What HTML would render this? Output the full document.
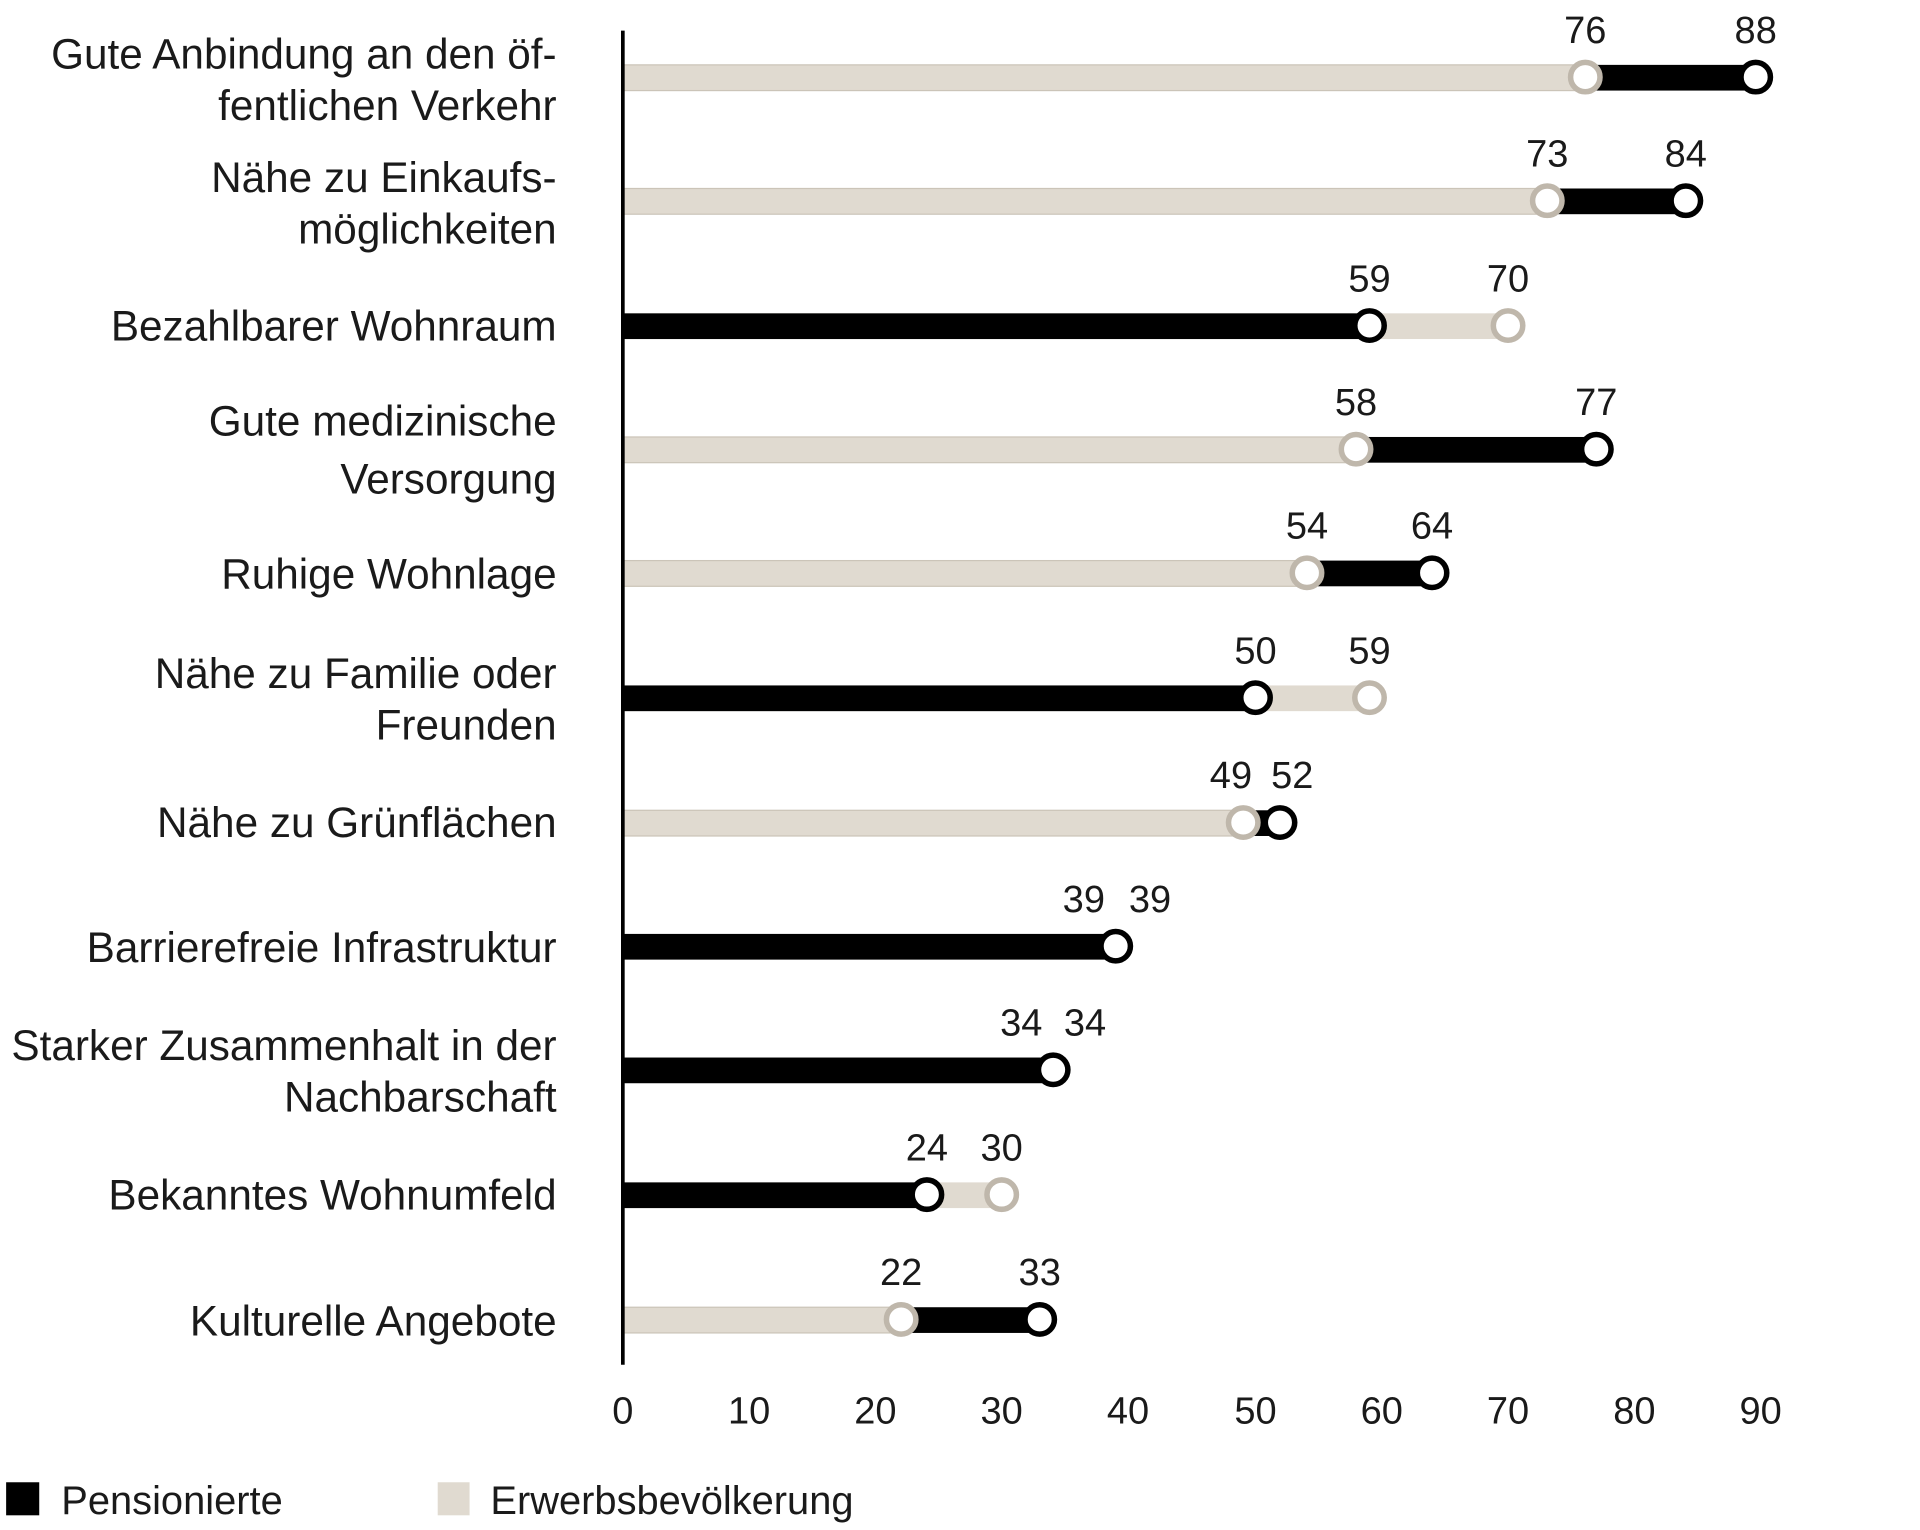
<!DOCTYPE html>
<html><head><meta charset="utf-8"><style>html,body{margin:0;padding:0;background:#fff}svg{display:block}</style></head>
<body>
<svg width="1920" height="1530" viewBox="0 0 1566 1250" preserveAspectRatio="none" xmlns="http://www.w3.org/2000/svg" font-family="Liberation Sans, sans-serif" fill="#1a1a1a">
<g id="bars">
<rect x="508" y="53" width="924" height="21" fill="#000"/><rect x="508" y="53" width="785" height="21" fill="#e0dad0" stroke="#cbc4b8" stroke-width="1"/>
<rect x="508" y="154" width="867" height="21" fill="#000"/><rect x="508" y="154" width="754" height="21" fill="#e0dad0" stroke="#cbc4b8" stroke-width="1"/>
<rect x="508" y="256" width="722" height="21" fill="#e0dad0"/><rect x="508" y="256" width="609" height="21" fill="#000"/>
<rect x="508" y="357" width="794" height="21" fill="#000"/><rect x="508" y="357" width="598" height="21" fill="#e0dad0" stroke="#cbc4b8" stroke-width="1"/>
<rect x="508" y="458" width="660" height="21" fill="#000"/><rect x="508" y="458" width="558" height="21" fill="#e0dad0" stroke="#cbc4b8" stroke-width="1"/>
<rect x="508" y="560" width="609" height="21" fill="#e0dad0"/><rect x="508" y="560" width="516" height="21" fill="#000"/>
<rect x="508" y="662" width="536" height="21" fill="#000"/><rect x="508" y="662" width="506" height="21" fill="#e0dad0" stroke="#cbc4b8" stroke-width="1"/>
<rect x="508" y="763" width="402" height="21" fill="#000"/>
<rect x="508" y="864" width="351" height="21" fill="#000"/>
<rect x="508" y="966" width="309" height="21" fill="#e0dad0"/><rect x="508" y="966" width="248" height="21" fill="#000"/>
<rect x="508" y="1068" width="340" height="21" fill="#000"/><rect x="508" y="1068" width="227" height="21" fill="#e0dad0" stroke="#cbc4b8" stroke-width="1"/>
</g>
<line x1="508" y1="25" x2="508" y2="1115" stroke="#000" stroke-width="3"/>
<g fill="#fff" stroke-width="4.5">
<g stroke="#bfb7ab">
<circle cx="1293" cy="63" r="12"/><circle cx="1262" cy="164" r="12"/><circle cx="1230" cy="266" r="12"/><circle cx="1106" cy="367" r="12"/><circle cx="1066" cy="468" r="12"/><circle cx="1117" cy="570" r="12"/><circle cx="1014" cy="672" r="12"/><circle cx="817" cy="976" r="12"/><circle cx="735" cy="1078" r="12"/>
</g>
<g stroke="#000">
<circle cx="1432" cy="63" r="12"/><circle cx="1375" cy="164" r="12"/><circle cx="1117" cy="266" r="12"/><circle cx="1302" cy="367" r="12"/><circle cx="1168" cy="468" r="12"/><circle cx="1024" cy="570" r="12"/><circle cx="1044" cy="672" r="12"/><circle cx="910" cy="773" r="12"/><circle cx="859" cy="874" r="12"/><circle cx="756" cy="976" r="12"/><circle cx="848" cy="1078" r="12"/>
</g>
</g>
<g font-size="31" text-anchor="middle">
<text x="1293" y="35">76</text><text x="1432" y="35">88</text>
<text x="1262" y="136">73</text><text x="1375" y="136">84</text>
<text x="1117" y="238">59</text><text x="1230" y="238">70</text>
<text x="1106" y="339">58</text><text x="1302" y="339">77</text>
<text x="1066" y="440">54</text><text x="1168" y="440">64</text>
<text x="1024" y="542">50</text><text x="1117" y="542">59</text>
<text x="1004" y="644">49</text><text x="1054" y="644">52</text>
<text x="884" y="745">39</text><text x="938" y="745">39</text>
<text x="833" y="846">34</text><text x="885" y="846">34</text>
<text x="756" y="948">24</text><text x="817" y="948">30</text>
<text x="735" y="1050">22</text><text x="848" y="1050">33</text>
</g>
<g font-size="31" text-anchor="middle">
<text x="508" y="1163">0</text><text x="611" y="1163">10</text><text x="714" y="1163">20</text><text x="817" y="1163">30</text><text x="920" y="1163">40</text><text x="1024" y="1163">50</text><text x="1127" y="1163">60</text><text x="1230" y="1163">70</text><text x="1333" y="1163">80</text><text x="1436" y="1163">90</text>
</g>
<g font-size="34.5" text-anchor="end">
<text x="454" y="56">Gute Anbindung an den öf-</text><text x="454" y="98">fentlichen Verkehr</text>
<text x="454" y="157">Nähe zu Einkaufs-</text><text x="454" y="199">möglichkeiten</text>
<text x="454" y="278">Bezahlbarer Wohnraum</text>
<text x="454" y="356">Gute medizinische</text><text x="454" y="403">Versorgung</text>
<text x="454" y="481">Ruhige Wohnlage</text>
<text x="454" y="562">Nähe zu Familie oder</text><text x="454" y="604">Freunden</text>
<text x="454" y="684">Nähe zu Grünflächen</text>
<text x="454" y="786">Barrierefreie Infrastruktur</text>
<text x="454" y="866">Starker Zusammenhalt in der</text><text x="454" y="908">Nachbarschaft</text>
<text x="454" y="988">Bekanntes Wohnumfeld</text>
<text x="454" y="1091">Kulturelle Angebote</text>
</g>
<rect x="5" y="1211" width="27" height="27" fill="#000"/>
<text x="50" y="1237" font-size="32.5">Pensionierte</text>
<rect x="357" y="1211" width="26" height="27" fill="#e0dad0"/>
<text x="400" y="1237" font-size="32.5">Erwerbsbevölkerung</text>
</svg>
</body></html>
